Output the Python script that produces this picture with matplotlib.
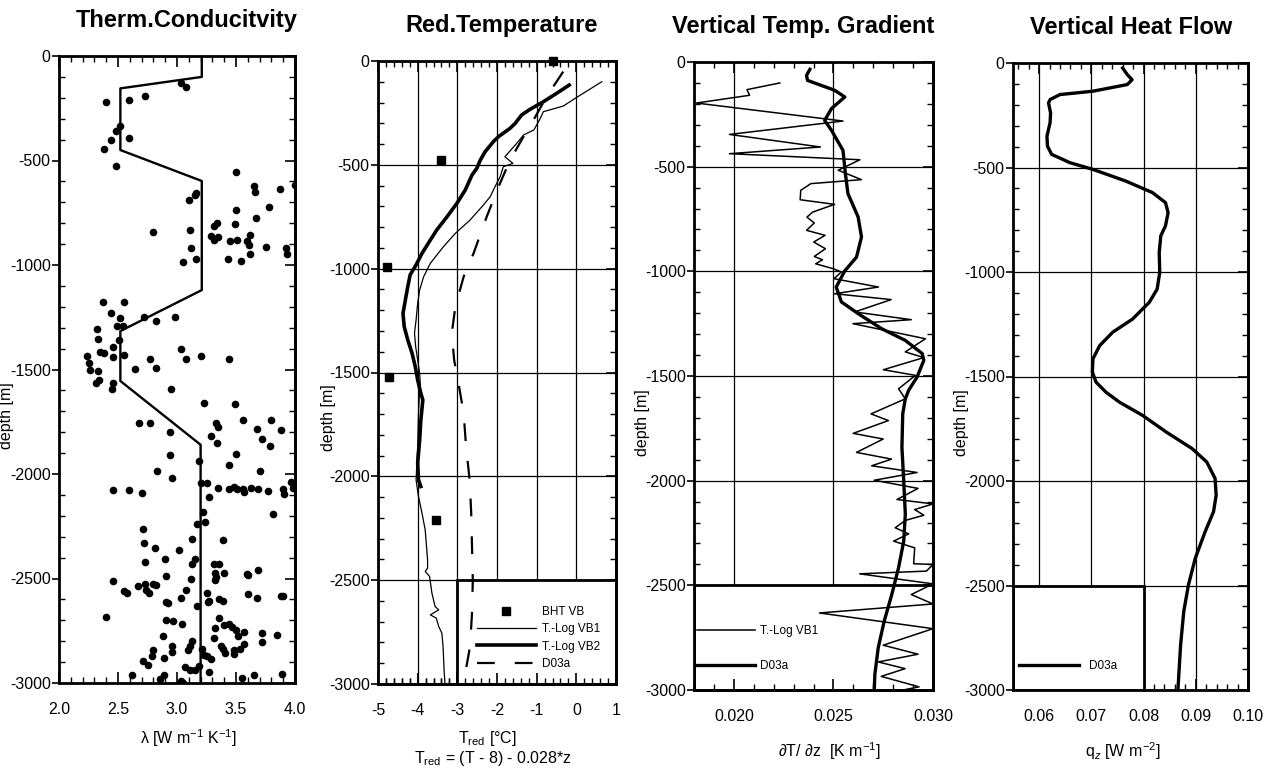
import matplotlib
matplotlib.use("Agg")
import matplotlib.pyplot as plt
from matplotlib.ticker import MultipleLocator, FormatStrFormatter, NullFormatter
from matplotlib.patches import Rectangle

plt.rcParams['font.family'] = ['Liberation Sans', 'DejaVu Sans']
plt.rcParams['axes.unicode_minus'] = False
plt.rcParams['mathtext.fontset'] = 'custom'
plt.rcParams['mathtext.rm'] = 'Liberation Sans'
plt.rcParams['mathtext.it'] = 'Liberation Sans:italic'
plt.rcParams['mathtext.bf'] = 'Liberation Sans:bold'

# ---------------- data ----------------
titles = ["Therm.Conducitvity", "Red.Temperature", "Vertical Temp. Gradient", "Vertical Heat Flow"]

# Panel 1: thermal conductivity measurements
lam_x = [3.03, 3.08, 2.40, 2.59, 2.73, 2.52, 2.48, 2.44, 2.59, 2.38, 2.48,
         3.50, 3.65, 3.66, 3.87, 4.00, 3.16, 3.15, 3.10, 3.50, 3.78, 3.67,
         3.31, 3.34, 3.49, 2.80, 3.11, 3.29, 3.31, 3.35, 3.45, 3.51, 3.59, 3.62, 3.61, 3.62,
         3.75, 3.92, 3.93, 3.12, 3.05, 3.16, 3.43, 3.54,
         2.37, 2.55, 2.44, 2.52, 2.72, 2.82, 2.98, 2.49, 2.54, 2.32, 2.33, 2.51, 2.46, 2.35,
         2.38, 2.46, 2.55, 2.24, 2.25, 2.26, 2.33, 3.03, 3.08, 3.20, 2.77, 2.82, 2.64, 3.44,
         2.31, 2.34, 2.46, 2.45, 2.95,
         3.23, 3.49, 2.68, 2.77, 3.33, 3.35, 3.56, 3.80, 3.68, 3.29, 3.34, 2.94, 3.72, 3.79,
         3.88, 3.50, 2.94, 3.19, 3.44, 2.83, 3.70, 2.96, 2.46, 2.59, 2.70, 3.20, 3.25, 3.35,
         3.44, 3.48, 3.51, 3.56, 3.57, 3.63, 3.69, 3.77, 3.90, 3.91, 3.97, 3.98, 3.27, 3.22,
         3.24, 3.17, 3.81, 2.71, 2.72, 3.13, 3.39, 2.81, 3.02, 3.15, 3.13, 2.90, 2.73, 3.31,
         3.36, 3.69, 3.32, 3.40, 3.59, 3.60, 3.32, 3.33, 2.46, 2.91, 3.12, 2.55, 2.58, 2.67,
         2.73, 2.74, 2.76, 2.80, 2.82, 3.08, 3.03, 2.91, 2.92, 3.25, 3.26, 3.27, 3.36, 3.39,
         3.60, 3.68, 3.88, 3.90, 3.17, 2.40, 2.91, 2.97, 3.04, 3.36, 3.40, 3.44, 3.47, 3.50,
         3.32, 3.57, 3.52, 3.72, 3.85, 3.72, 3.31, 3.37, 3.39, 3.41, 3.48, 3.48, 3.53, 3.57,
         2.88, 3.13, 3.11, 2.96, 2.96, 2.89, 2.80, 2.79, 2.71, 2.75, 3.09, 3.21, 3.23, 3.25,
         3.29, 3.07, 3.11, 3.15, 3.19, 3.27, 2.62, 2.89, 2.86, 3.03, 3.05, 3.55, 3.65, 3.89]
lam_z = [-128, -150, -218, -210, -191, -335, -357, -402, -391, -443, -525,
         -555, -622, -649, -635, -616, -654, -665, -689, -737, -724, -777,
         -812, -800, -802, -844, -831, -861, -880, -868, -887, -882, -885, -858, -904, -947,
         -915, -920, -949, -920, -986, -971, -971, -981,
         -1179, -1177, -1231, -1255, -1247, -1270, -1250, -1292, -1292, -1308, -1356, -1359, -1391, -1415,
         -1419, -1442, -1431, -1435, -1471, -1502, -1507, -1400, -1450, -1435, -1450, -1491, -1499, -1450,
         -1563, -1550, -1566, -1595, -1595,
         -1658, -1667, -1755, -1755, -1754, -1777, -1744, -1744, -1783, -1816, -1854, -1798, -1831, -1865,
         -1790, -1903, -1910, -1938, -1956, -1984, -1984, -2019, -2077, -2077, -2093, -2042, -2045, -2065,
         -2070, -2060, -2073, -2070, -2084, -2065, -2073, -2081, -2073, -2097, -2040, -2065, -2108, -2180,
         -2230, -2241, -2193, -2265, -2332, -2313, -2316, -2356, -2365, -2408, -2429, -2408, -2421, -2433,
         -2429, -2459, -2472, -2476, -2480, -2485, -2508, -2495, -2512, -2488, -2503, -2562, -2568, -2536,
         -2524, -2555, -2568, -2524, -2530, -2555, -2591, -2612, -2619, -2570, -2612, -2609, -2600, -2607,
         -2576, -2593, -2586, -2582, -2631, -2682, -2698, -2702, -2719, -2691, -2723, -2718, -2734, -2746,
         -2738, -2754, -2777, -2761, -2771, -2806, -2787, -2822, -2838, -2857, -2843, -2860, -2838, -2812,
         -2774, -2798, -2825, -2822, -2854, -2880, -2841, -2869, -2894, -2914, -2841, -2835, -2867, -2873,
         -2883, -2925, -2938, -2938, -2918, -2946, -2962, -2962, -2981, -2991, -3000, -2977, -2962, -2957]
# conductivity model (step line)
lam_model_x = [3.21, 3.21, 2.52, 2.52, 3.21, 3.21, 2.52, 2.52, 3.20, 3.20]
lam_model_z = [0, -100, -155, -450, -598, -1120, -1316, -1555, -1860, -3000]

# Panel 2: reduced temperature
bht_x = [-0.60, -3.41, -4.77, -4.73, -3.53]
bht_z = [0, -477, -990, -1520, -2210]
vb1_x = [0.64, 0.01, -0.33, -0.83, -0.93, -1.07, -1.33, -1.50, -1.80, -1.60, -1.84, -1.92, -2.05,
         -2.17, -2.34, -2.68, -3.05, -3.35, -3.68, -3.85, -3.95, -4.00, -4.04, -4.08, -4.05, -4.00,
         -3.95, -3.93, -3.95, -3.98, -4.00, -4.04, -3.98, -3.89, -3.81, -3.75, -3.75, -3.81, -3.70,
         -3.64, -3.56, -3.47, -3.68, -3.53, -3.47, -3.39, -3.36, -3.33, -3.31]
vb1_z = [-100, -175, -217, -244, -284, -332, -356, -396, -461, -493, -509, -557, -605,
         -653, -693, -766, -830, -894, -974, -1039, -1103, -1167, -1247, -1311, -1376, -1440,
         -1504, -1568, -1584, -1697, -1857, -2017, -2097, -2178, -2258, -2402, -2442, -2458, -2482,
         -2563, -2627, -2643, -2667, -2683, -2723, -2755, -2820, -2948, -3000]
vb2_x = [-0.18, -0.50, -0.83, -1.17, -1.38, -1.54, -1.67, -1.96, -2.09, -2.30, -2.42, -2.51, -2.63,
         -2.80, -3.01, -3.26, -3.52, -3.68, -3.89, -4.04, -4.19, -4.25, -4.31, -4.37, -4.34, -4.25,
         -4.14, -4.06, -4.00, -3.92, -3.87, -3.92, -3.95, -4.00, -3.98, -3.92]
vb2_z = [-116, -156, -196, -233, -260, -300, -324, -364, -388, -437, -477, -517, -549,
         -621, -685, -750, -814, -862, -926, -982, -1030, -1087, -1151, -1215, -1279, -1343,
         -1408, -1472, -1536, -1600, -1632, -1729, -1825, -1937, -2017, -2049]
d03_x = [-0.33, -0.75, -1.08, -1.33, -1.67, -1.96, -2.26, -2.59, -2.84, -3.05, -3.14, -3.08, -2.97,
         -2.84, -2.78, -2.69, -2.65, -2.63, -2.61, -2.63, -2.68, -2.80, -2.89]
d03_z = [-51, -172, -284, -364, -477, -605, -750, -926, -1038, -1183, -1311, -1440, -1552,
         -1697, -1857, -2017, -2178, -2338, -2499, -2659, -2820, -2948, -3000]

# Panel 3: vertical temperature gradient
grad_vb1_x = [0.02231, 0.02066, 0.02079, 0.01812, 0.02548, 0.01978, 0.02435, 0.01978, 0.02633,
              0.02524, 0.02641, 0.02387, 0.02336, 0.02333, 0.02506, 0.02396, 0.02367, 0.02404,
              0.02365, 0.02458, 0.02401, 0.02460, 0.02404, 0.02445, 0.02411, 0.02497, 0.02540,
              0.02503, 0.02726, 0.02506, 0.02790, 0.02607, 0.02891, 0.02598, 0.02962, 0.02861,
              0.02954, 0.02751, 0.02912, 0.02827, 0.02861, 0.02689, 0.02776, 0.02599, 0.02750,
              0.02616, 0.02792, 0.02692, 0.02920, 0.02705, 0.02925, 0.02819, 0.03000, 0.02908,
              0.02954, 0.02861, 0.02810, 0.02878, 0.02802, 0.02908, 0.02903, 0.03000, 0.02967,
              0.02632, 0.03000, 0.02891, 0.03000, 0.02430, 0.03000, 0.02750, 0.02925, 0.02725,
              0.02860, 0.02740, 0.02930, 0.02850]
grad_vb1_z = [-100, -132, -159, -196, -282, -346, -406, -438, -467,
              -517, -562, -581, -613, -658, -680, -717, -741, -769,
              -804, -828, -860, -892, -929, -945, -964, -987, -1003,
              -1035, -1075, -1107, -1135, -1194, -1231, -1250, -1322, -1385,
              -1412, -1470, -1497, -1561, -1609, -1681, -1713, -1774, -1801,
              -1865, -1897, -1929, -1961, -1998, -2037, -2090, -2111, -2138,
              -2165, -2190, -2225, -2254, -2289, -2321, -2397, -2400, -2432,
              -2445, -2493, -2544, -2589, -2632, -2707, -2786, -2829, -2866,
              -2898, -2935, -2985, -3000]
grad_d03_x = [0.02382, 0.02365, 0.02370, 0.02506, 0.02557, 0.02490, 0.02456, 0.02490, 0.02548,
              0.02560, 0.02573, 0.02624, 0.02641, 0.02616, 0.02557, 0.02514, 0.02540, 0.02624,
              0.02742, 0.02861, 0.02946, 0.02954, 0.02920, 0.02878, 0.02861, 0.02848, 0.02844,
              0.02853, 0.02861, 0.02853, 0.02827, 0.02793, 0.02755, 0.02725, 0.02708, 0.02705]
grad_d03_z = [-35, -64, -88, -135, -167, -223, -279, -326, -422,
              -533, -629, -740, -836, -932, -998, -1075, -1146, -1202,
              -1274, -1330, -1393, -1425, -1505, -1568, -1609, -1681, -1841,
              -2000, -2160, -2289, -2416, -2544, -2671, -2798, -2926, -3005]

# Panel 4: vertical heat flow
qz_x = [0.0760, 0.0769, 0.0778, 0.0769, 0.0703, 0.0640, 0.0621, 0.0618, 0.0622, 0.0621, 0.0615,
        0.0616, 0.0624, 0.0659, 0.0703, 0.0766, 0.0817, 0.0842, 0.0847, 0.0842, 0.0833, 0.0830,
        0.0831, 0.0826, 0.0811, 0.0779, 0.0741, 0.0716, 0.0703, 0.0702, 0.0709, 0.0728, 0.0754,
        0.0798, 0.0843, 0.0893, 0.0921, 0.0937, 0.0939, 0.0934, 0.0918, 0.0899, 0.0886, 0.0877,
        0.0871, 0.0866]
qz_z = [-24, -56, -80, -103, -135, -151, -175, -191, -239, -286, -350,
        -398, -437, -477, -509, -565, -620, -668, -716, -779, -827, -907,
        -1002, -1082, -1145, -1225, -1288, -1352, -1416, -1479, -1527, -1575, -1623,
        -1686, -1765, -1845, -1909, -1988, -2068, -2147, -2242, -2370, -2497, -2624,
        -2783, -2990]

# ---------------- figure ----------------
fig = plt.figure(figsize=(12.78, 7.7), dpi=100)
W, H = 1278.0, 770.0
boxes_px = [(59, 56, 295, 683), (378, 61, 616, 684), (694, 62, 933, 690), (1013, 63, 1248, 690)]
axs = []
for (l, t, r, b) in boxes_px:
    axs.append(fig.add_axes([l / W, 1 - b / H, (r - l) / W, (b - t) / H]))

TICK_FS = 11.5
LAB_FS = 11.5
SPINE_LW = 2.0
LEG_FS = 8.5


def style(ax, xlim, xmaj, xmin, xfmt, grid, title, title_x, bottom_over=False):
    ax.set_xlim(*xlim)
    ax.set_ylim(-3000, 0)
    ax.xaxis.set_major_locator(MultipleLocator(xmaj))
    ax.xaxis.set_minor_locator(MultipleLocator(xmin))
    if xfmt:
        ax.xaxis.set_major_formatter(FormatStrFormatter(xfmt))
    ax.yaxis.set_major_locator(MultipleLocator(500))
    ax.yaxis.set_minor_locator(MultipleLocator(100))
    ax.tick_params(axis='x', which='major', direction='in', length=8, width=1.2,
                   top=True, bottom=True, pad=14, labelsize=TICK_FS)
    ax.tick_params(axis='x', which='minor', direction='in', length=4.5, width=1.0,
                   top=True, bottom=True)
    ax.tick_params(axis='y', which='major', direction='out', length=5, width=1.2,
                   left=True, right=False, pad=1, labelsize=TICK_FS)
    ax.tick_params(axis='y', which='minor', direction='in', length=4.5, width=1.0,
                   left=True, right=True)
    sec = ax.secondary_yaxis('right')
    sec.yaxis.set_major_locator(MultipleLocator(500))
    sec.yaxis.set_minor_locator(MultipleLocator(100))
    sec.tick_params(which='major', direction='in', length=7, width=1.2, labelright=False)
    sec.tick_params(which='minor', length=0)
    sec.spines['right'].set_linewidth(SPINE_LW)
    if bottom_over:
        secx = ax.secondary_xaxis('bottom')
        secx.set_zorder(6)
        secx.xaxis.set_major_locator(MultipleLocator(xmaj))
        secx.xaxis.set_minor_locator(MultipleLocator(xmin))
        secx.xaxis.set_major_formatter(NullFormatter())
        secx.tick_params(which='major', direction='in', length=8, width=1.2)
        secx.tick_params(which='minor', direction='in', length=4.5, width=1.0)
        secx.spines['bottom'].set_linewidth(SPINE_LW)
    for s in ax.spines.values():
        s.set_linewidth(SPINE_LW)
    if grid:
        ax.set_axisbelow(True)
        ax.grid(True, which='major', color='black', linewidth=0.9)
    ax.set_title(title, fontsize=17, fontweight='bold', pad=21, x=title_x)
    ax.set_ylabel('depth [m]', fontsize=LAB_FS)


def legend_box(ax, x0, x1):
    rect = Rectangle((x0, -3000), x1 - x0, 500, facecolor='white', edgecolor='black',
                     linewidth=2.0, zorder=1)
    ax.add_patch(rect)


# Panel 1
ax = axs[0]
ax.scatter(lam_x, lam_z, s=20, color='black', zorder=3, clip_on=True)
ax.plot(lam_model_x, lam_model_z, color='black', lw=1.7, zorder=3)
style(ax, (2.0, 4.0), 0.5, 0.1, '%.1f', False, titles[0], 0.542)
ax.set_xlabel('λ [W m$^{-1}$ K$^{-1}$]', fontsize=LAB_FS)
ax.xaxis.set_label_coords(0.547, -0.070)
ax.yaxis.set_label_coords(-0.19, 0.427)

# Panel 2
ax = axs[1]
style(ax, (-5, 1), 1, 0.2, None, True, titles[1], 0.521, bottom_over=True)
legend_box(ax, -3, 1)
h_bht, = ax.plot(bht_x, bht_z, 's', color='black', ms=6, ls='none', zorder=4, clip_on=False)
h_vb1, = ax.plot(vb1_x, vb1_z, color='black', lw=0.9, zorder=3)
h_vb2, = ax.plot(vb2_x, vb2_z, color='black', lw=2.6, zorder=3)
h_d03, = ax.plot(d03_x, d03_z, color='black', lw=1.6, dashes=(8, 9), zorder=3)
ax.legend([h_bht, h_vb1, h_vb2, h_d03], ['BHT VB', 'T.-Log VB1', 'T.-Log VB2', 'D03a'],
          loc='center left', bbox_to_anchor=(0.415, 0.074), frameon=False, fontsize=LEG_FS,
          handlelength=5.0, handletextpad=0.5, labelspacing=0.45, borderpad=0,
          borderaxespad=0, numpoints=1)
ax.set_xlabel('T$_{\\rm red}$ [°C]', fontsize=LAB_FS)
ax.xaxis.set_label_coords(0.458, -0.072)
ax.text(0.483, -0.119, 'T$_{\\rm red}$ = (T - 8) - 0.028*z', transform=ax.transAxes,
        ha='center', va='center', fontsize=LAB_FS)
ax.yaxis.set_label_coords(-0.176, 0.427)

# Panel 3
ax = axs[2]
style(ax, (0.018, 0.030), 0.005, 0.001, '%.3f', True, titles[2], 0.456, bottom_over=True)
legend_box(ax, 0.018, 0.030)
g1, = ax.plot(grad_vb1_x, grad_vb1_z, color='black', lw=1.1, zorder=3)
g2, = ax.plot(grad_d03_x, grad_d03_z, color='black', lw=2.4, zorder=3)
ax.legend([g1, g2], ['T.-Log VB1', 'D03a'], loc='center left', bbox_to_anchor=(0.0126, 0.066),
          frameon=False, fontsize=LEG_FS, handlelength=4.9, handletextpad=0.45, labelspacing=2.0,
          borderpad=0, borderaxespad=0)
ax.set_xlabel('∂T/ ∂z  [K m$^{-1}$]', fontsize=LAB_FS)
ax.xaxis.set_label_coords(0.565, -0.080)
ax.yaxis.set_label_coords(-0.184, 0.425)

# Panel 4
ax = axs[3]
style(ax, (0.055, 0.100), 0.01, 0.002, '%.2f', True, titles[3], 0.502)
legend_box(ax, 0.055, 0.080)
q1, = ax.plot(qz_x, qz_z, color='black', lw=2.4, zorder=3)
ax.legend([q1], ['D03a'], loc='center left', bbox_to_anchor=(0.0255, 0.038),
          frameon=False, fontsize=LEG_FS, handlelength=5.1, handletextpad=0.8,
          borderpad=0, borderaxespad=0)
ax.set_xlabel('q$_z$ [W m$^{-2}$]', fontsize=LAB_FS)
ax.xaxis.set_label_coords(0.468, -0.080)
ax.yaxis.set_label_coords(-0.187, 0.427)

fig.savefig('out.png', dpi=100)
